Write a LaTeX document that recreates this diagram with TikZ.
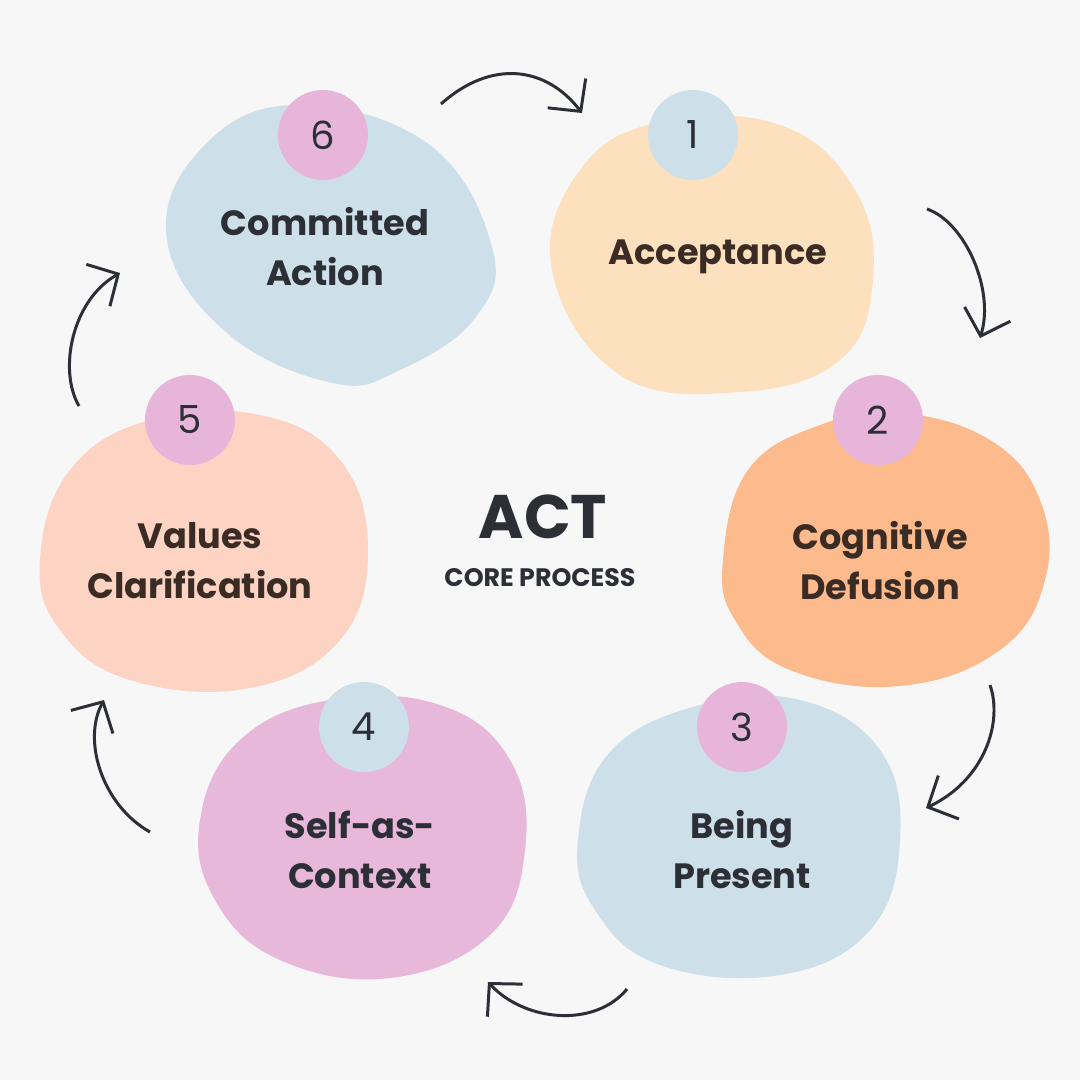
\documentclass[tikz,border=0pt]{standalone}
\usepackage{fontspec}
\setmainfont{Poppins}
\usetikzlibrary{arrows.meta}
\definecolor{bgc}{HTML}{F7F7F7}
\definecolor{sky}{HTML}{CDE0E9}
\definecolor{peach}{HTML}{FDE0BE}
\definecolor{tang}{HTML}{FCBA8D}
\definecolor{orchid}{HTML}{E8B8DA}
\definecolor{salmon}{HTML}{FDD3C3}
\definecolor{dot}{HTML}{E7B5D9}
\definecolor{ink}{HTML}{2C2F36}
\definecolor{inkw}{HTML}{3A2B24}
\tikzset{
blob/.style={smooth cycle, tension=0.7},
num/.style={circle, minimum size=9mm, inner sep=0pt, font=\fontsize{11}{13}\selectfont, text=ink},
lbl/.style={align=center, font=\bfseries\fontsize{10}{14.2}\selectfont},
cyc/.style={line width=0.85pt, draw=ink, -{Straight Barb[length=2.3mm,width=4.8mm,line width=0.85pt]}},
}

\begin{document}
\begin{tikzpicture}[x=0.1mm, y=-0.1mm]
\fill[bgc] (0,0) rectangle (1080,1080);
\useasboundingbox (0,0) rectangle (1080,1080);

    \fill[sky] plot[blob] coordinates {(167,240) (200,150) (293,105) (427,143) (492,247) (475,318) (400,370) (333,383) (227,333)};
    \fill[peach] plot[blob] coordinates {(552,270) (580,170) (660,122) (780,125) (855,190) (873,280) (840,360) (740,392) (620,375)};
    \fill[tang] plot[blob] coordinates {(723,560) (748,470) (820,425) (900,413) (990,440) (1040,500) (1045,580) (1000,650) (900,686) (790,670) (735,620)};
    \fill[sky] plot[blob] coordinates {(578,840) (610,752) (700,705) (800,700) (880,750) (900,840) (870,930) (780,975) (660,965) (595,910)};
    \fill[orchid] plot[blob] coordinates {(200,820) (240,740) (330,700) (440,705) (510,760) (525,850) (490,935) (390,978) (280,960) (215,900)};
    \fill[salmon] plot[blob] coordinates {(40,560) (70,470) (150,420) (260,415) (340,460) (368,550) (340,640) (250,688) (130,680) (60,630)};

    \node[num, fill=dot] (n6) at (323,135) {6};
    \node[num, fill=sky] (n1) at (693,135) {1};
    \node[num, fill=dot] (n2) at (878,420) {2};
    \node[num, fill=dot] (n3) at (742,727) {3};
    \node[num, fill=sky] (n4) at (364,727) {4};
    \node[num, fill=dot] (n5) at (190,420) {5};

    \node[lbl, text=ink] (action) at (325,247) {Committed\\Action};
    \node[lbl, text=inkw] (accept) at (718,257) {Acceptance};
    \node[lbl, text=inkw] (defuse) at (880,561) {Cognitive\\Defusion};
    \node[lbl, text=ink] (present) at (742,850) {Being\\Present};
    \node[lbl, text=ink] (self) at (360,850) {Self-as-\\Context};
    \node[lbl, text=inkw] (values) at (200,561) {Values\\Clarification};

    \node[font=\bfseries\fontsize{17.5}{20}\selectfont, text=ink] (act) at (543,517) {ACT};
    \node[font=\bfseries\fontsize{7.2}{9}\selectfont, text=ink] (core) at (540,578) {CORE PROCESS};

    \coordinate (a1) at (441,104); \coordinate (b1) at (582,113);
    \coordinate (a2) at (927,209); \coordinate (b2) at (980,338);
    \coordinate (a3) at (990,685); \coordinate (b3) at (926,808);
    \coordinate (a4) at (627,989); \coordinate (b4) at (488,982);
    \coordinate (a5) at (150,832); \coordinate (b5) at (104,700);
    \coordinate (a6) at (79,406); \coordinate (b6) at (120,273);

    \draw[cyc] (a1) .. controls (490,60) and (545,65) .. (b1);
    \draw[cyc] (a2) .. controls (965,222) and (995,290) .. (b2);
    \draw[cyc] (a3) .. controls (1003,722) and (985,780) .. (b3);
    \draw[cyc] (a4) .. controls (595,1028) and (525,1022) .. (b4);
    \draw[cyc] (a5) .. controls (102,805) and (82,740) .. (b5);
    \draw[cyc] (a6) .. controls (58,370) and (72,300) .. (b6);
\end{tikzpicture}
\end{document}
